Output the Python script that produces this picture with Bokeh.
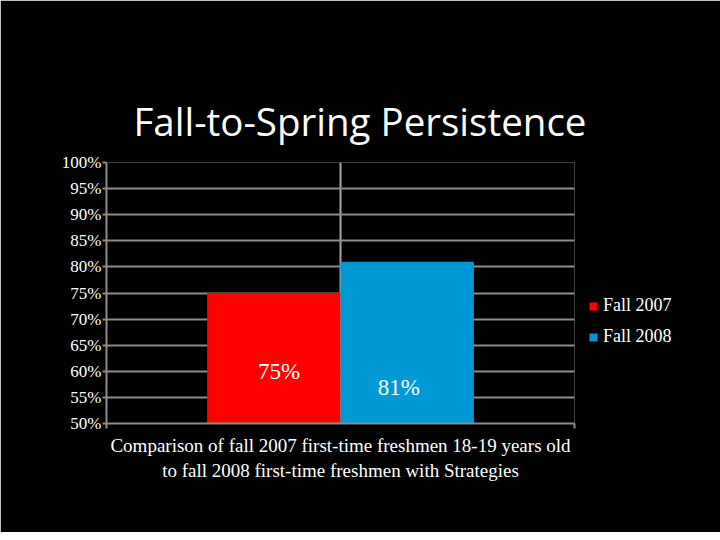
from bokeh.plotting import figure
from bokeh.models import (Range1d, FixedTicker, Grid, Legend, LegendItem, Title)
from bokeh.core.properties import value
from bokeh.embed import file_html
from bokeh.resources import INLINE

# ---- data ----
series = ["Fall 2007", "Fall 2008"]
values = [0.75, 0.81]
value_labels = ["75%", "81%"]
y_ticks = [0.50, 0.55, 0.60, 0.65, 0.70, 0.75, 0.80, 0.85, 0.90, 0.95, 1.00]
y_tick_labels = ["50%", "55%", "60%", "65%", "70%", "75%", "80%", "85%", "90%", "95%", "100%"]
title_text = "Fall-to-Spring Persistence"
category_label = ("Comparison of fall 2007 first-time freshmen 18-19 years old\n"
                  "to fall 2008 first-time freshmen with Strategies")

# ---- style ----
colors = ["#FF0000", "#0099D5"]
grid_color = "#8C8C8C"
vgrid_color = "#A6A6A6"
serif = "Liberation Serif"
sans = "Open Sans"

group_center = 1.0
bar_width = 0.57
n = len(series)
xs = [group_center + (i - (n - 1) / 2) * bar_width for i in range(n)]
label_y = [0.60, 0.569]
label_dx = [0.022, -0.036]

p = figure(frame_width=468, frame_height=261, output_backend="svg", toolbar_location=None,
           x_range=Range1d(0, 2), y_range=Range1d(0.5, 1.0),
           background_fill_color="black", border_fill_color="black",
           min_border_left=106, min_border_right=138, min_border_top=162,
           min_border_bottom=109)
p.outline_line_color = None

p.title = Title(text=title_text, align="left", offset=27,
                text_font=sans, text_font_size="38.5px", text_font_style="normal",
                text_color="white", standoff=31)

renderers = []
for i in range(n):
    r = p.vbar(x=xs[i], top=values[i], bottom=0.5, width=bar_width,
               fill_color=colors[i], line_color=None)
    renderers.append(r)

p.text(x=[xs[i] + label_dx[i] for i in range(n)], y=label_y, text=value_labels,
       text_color="white", text_font=value(serif), text_font_size="23px",
       text_align="center", text_baseline="middle")

# axes
ya = p.yaxis[0]
ya.ticker = FixedTicker(ticks=y_ticks)
ya.major_label_overrides = {t: l for t, l in zip(y_ticks, y_tick_labels)}
ya.major_label_text_font = serif
ya.major_label_text_font_size = "17px"
ya.major_label_text_color = "white"
ya.major_label_standoff = 1
ya.axis_line_color = grid_color
ya.axis_line_width = 2
ya.major_tick_line_color = grid_color
ya.major_tick_line_width = 2
ya.major_tick_in = 0
ya.major_tick_out = 4
ya.minor_tick_line_color = None

xa = p.xaxis[0]
xa.ticker = FixedTicker(ticks=[0, 2])
xa.major_label_overrides = {0: "", 2: ""}
xa.major_label_text_font_size = "1px"
xa.axis_line_color = grid_color
xa.axis_line_width = 2
xa.major_tick_line_color = grid_color
xa.major_tick_line_width = 2
xa.major_tick_in = 0
xa.major_tick_out = 5
xa.minor_tick_line_color = None
xa.axis_label = category_label
xa.axis_label_text_font = serif
xa.axis_label_text_font_size = "19px"
xa.axis_label_text_font_style = "normal"
xa.axis_label_text_color = "white"
xa.axis_label_standoff = 6

p.xgrid.ticker = FixedTicker(ticks=[0, 1])
p.xgrid.grid_line_color = vgrid_color
p.xgrid.grid_line_width = 2
edge_grid = Grid(dimension=0, ticker=FixedTicker(ticks=[2]),
                 grid_line_color=vgrid_color, grid_line_width=4)
p.add_layout(edge_grid)
p.ygrid.ticker = FixedTicker(ticks=y_ticks[:-1])
p.ygrid.grid_line_color = grid_color
p.ygrid.grid_line_width = 2

legend = Legend(items=[LegendItem(label=series[i], renderers=[renderers[i]]) for i in range(n)],
                location=(14, 76), background_fill_alpha=0, border_line_color=None,
                label_text_color="white", label_text_font=serif, label_text_font_size="18px",
                glyph_width=10, glyph_height=10, spacing=10, label_standoff=5, padding=0,
                margin=0)
p.add_layout(legend, "right")

html = file_html(p, INLINE)
html = html.replace("<body>", '<body style="background-color:#000000;">', 1)
open("out.html", "w").write(html)
